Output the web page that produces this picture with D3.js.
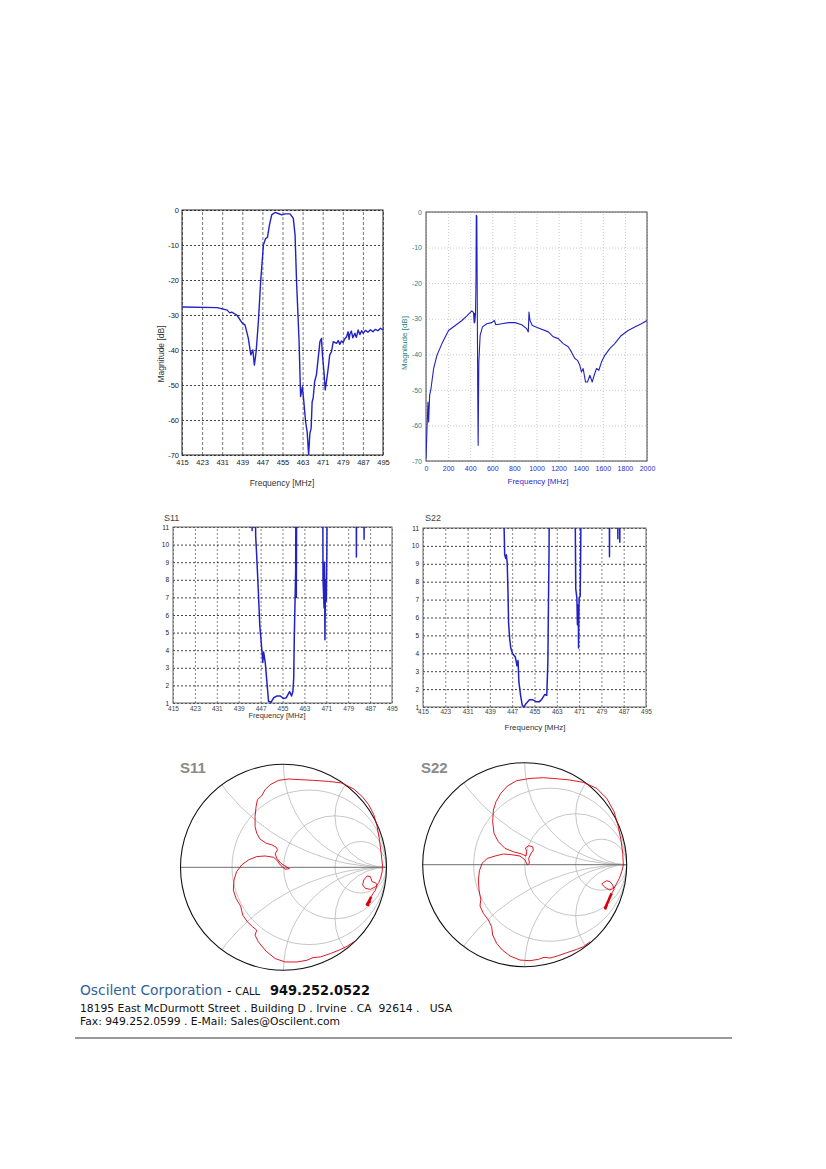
<!DOCTYPE html>
<html>
<head>
<meta charset="utf-8">
<script src="https://cdn.jsdelivr.net/npm/d3@7"></script>
<style>body{margin:0;background:#fff}</style>
</head>
<body>
<div id="page"></div>
<script>
// ---- data ----
// narrow band transmission, 415-495 MHz
const narrowMHz = [415, 429, 433, 434, 434.8, 436.8, 438.8, 440.1, 441.4, 442.4,
  443.2, 443.8, 444.5, 445.4, 446.3, 447.4, 448.3, 449, 449.8, 450.7,
  452, 453.3, 454.7, 456, 458, 459.3, 460, 460.6, 461.6, 462.2,
  462.9, 463.5, 464.2, 464.8, 465.4, 465.9, 466.4, 466.8, 467.2, 467.8,
  468.5, 469.2, 469.9, 470.5, 470.9, 471.5, 472, 472.5, 473.2, 473.8,
  474.5, 475.2, 476.5, 477.2, 477.8, 478.5, 479.1, 479.8, 480.5, 481.1,
  481.5, 481.8, 482.4, 483, 483.8, 484.4, 485.1, 485.8, 486.5, 487.1,
  488, 489, 490, 491, 492, 493, 494, 495];
const narrowDb = [-27.7, -27.9, -28.6, -29.4, -29.2, -30, -32.1, -32.9, -36.7, -41.4,
  -40, -44.3, -40.5, -31.9, -20.5, -10, -8.1, -7.9, -4.3, -1.4,
  -0.7, -1, -1.4, -1.1, -1.1, -2.4, -7.1, -20.5, -37.6, -53.3,
  -50.5, -54.8, -60.5, -63.3, -70, -63.8, -62.4, -54.8, -53.8, -49,
  -47.1, -42.4, -37.6, -36.7, -41.4, -46.2, -51.4, -49, -45.2, -41.4,
  -40.5, -37.6, -38.1, -37.3, -38.4, -37.4, -37.9, -36.8, -36.2, -34.8,
  -37, -35.5, -34.6, -36.5, -35.2, -36.4, -34.3, -35.6, -34.5, -35.2,
  -34.4, -34.9, -34.2, -34.8, -34.1, -34.5, -33.8, -34.3];

// wide band transmission, 0-2000 MHz
const wideMHz = [0, 9, 18, 24, 33, 45, 69, 99, 144, 204,
  265, 325, 370, 415, 430, 436, 439, 442, 448, 452,
  455, 460, 464, 468, 472, 478, 490, 511, 550, 595,
  619, 632, 686, 746, 806, 866, 911, 926, 932, 941,
  962, 1017, 1107, 1152, 1197, 1242, 1287, 1317, 1347, 1371,
  1392, 1407, 1422, 1444, 1462, 1483, 1504, 1522, 1543, 1564,
  1588, 1618, 1663, 1708, 1768, 1829, 1889, 1949, 2000];
const wideDb = [-69.3, -60.9, -53.4, -59, -51.5, -49.7, -44, -40.3, -37, -33.3,
  -31.9, -30.5, -29.2, -27.8, -28.3, -31.2, -28.5, -31, -28.6, -20,
  -0.9, -1.2, -25, -50, -65.6, -42.2, -34.7, -32.3, -31.4, -31.1,
  -30.5, -31.7, -31.4, -31.1, -31.1, -31.7, -32.8, -33.7, -28.1, -30.5,
  -31.9, -32.6, -33.7, -35.1, -35.6, -37, -37.9, -39.4, -41.2, -41.7,
  -43.1, -45, -44, -47.8, -47.8, -45.9, -47.8, -45.9, -44, -44.5,
  -42.2, -40.3, -38.4, -37, -34.7, -33.3, -32.3, -31.4, -30.5];

// VSWR (values above 11 run off the top of the plot)
const s11MHz = [443.8, 443.9, 444.0, 445.0, 445.2, 445.5, 445.9, 446.3, 446.7, 447.1,
  447.5, 447.8, 448.1, 448.7, 449.3, 449.9, 450.8, 451.8, 453, 454.2,
  455.4, 456.4, 457.6, 458.3, 458.8, 459.1, 459.3, 459.6, 459.8, 459.95,
  460.05, 460.2, 469.7, 469.8, 470.2, 470.35, 470.5, 470.7, 471, 471.2,
  471.35, 481.9, 482, 482.1, 484.7, 484.8, 484.9];
const s11Vswr = [14, 10.8, 14, 14, 10.5, 9.6, 8.3, 6.9, 5.4, 4.7,
  3.9, 3.3, 3.9, 3.3, 2.2, 1.1, 1.04, 1.3, 1.4, 1.4,
  1.25, 1.3, 1.65, 1.4, 1.65, 2.4, 4.7, 6.9, 8.5, 14,
  7.0, 14, 14, 8.0, 6.4, 9, 4.6, 8, 6.8, 9.5,
  14, 14, 9.3, 14, 14, 10.3, 14];
const s22MHz = [444.0, 444.1, 444.3, 444.7, 444.9, 445.2, 445.5, 445.7, 446.1, 446.5,
  447.1, 447.5, 448.1, 448.5, 448.7, 449.1, 449.4, 450, 450.6, 451.2,
  452, 453.2, 454.4, 455.6, 456.8, 457.7, 458.7, 459.4, 459.8, 460,
  460.2, 460.4, 469.5, 469.8, 470.2, 470.4, 470.7, 470.8, 471, 471.4,
  471.6, 471.7, 481.8, 481.9, 482.0, 484.8, 484.9, 485.0, 485.5, 485.6,
  485.7];
const s22Vswr = [14, 11, 9.5, 9.3, 9.5, 9.1, 7.4, 5.7, 4.8, 4.3,
  4.0, 3.9, 3.8, 3.5, 3.3, 3.6, 2.4, 1.65, 1.1, 1.0,
  1.2, 1.4, 1.4, 1.3, 1.3, 1.45, 1.7, 1.65, 3.5, 6.7,
  9.5, 14, 14, 7.6, 7.1, 5.6, 6.7, 4.3, 7.1, 7.2,
  10.1, 14, 14, 9.4, 14, 14, 10.4, 14, 14, 10.2,
  14];

// reflection coefficient loci (real, imaginary); the first points form the dense band end
const s11Re = [0.818, 0.83, 0.81, 0.838, 0.82, 0.851, 0.870, 0.893, 0.909, 0.893, 0.860, 0.844, 0.812, 0.779, 0.769,
  0.795, 0.844, 0.893, 0.925, 0.942, 0.958, 0.961, 0.948, 0.932, 0.909, 0.877, 0.828, 0.763, 0.682,
  0.568, 0.438, 0.292, 0.162, 0.049, -0.049, -0.130, -0.179, -0.211, -0.253, -0.266, -0.276, -0.276,
  -0.260, -0.227, -0.169, -0.114, -0.071, -0.058, -0.081, -0.065, -0.026, 0.026, 0.058, 0.016, -0.032,
  -0.065, -0.097, -0.179, -0.260, -0.341, -0.406, -0.455, -0.481, -0.487, -0.461, -0.416, -0.396,
  -0.351, -0.299, -0.260, -0.276, -0.244, -0.169, -0.081, 0.016, 0.130, 0.227, 0.286, 0.357, 0.455,
  0.552, 0.617, 0.682];
const s11Im = [-0.377, -0.33, -0.36, -0.334, -0.35, -0.286, -0.253, -0.221, -0.172, -0.149, -0.140, -0.091, -0.084, -0.123, -0.172,
  -0.205, -0.214, -0.188, -0.149, -0.107, -0.042, 0.023, 0.136, 0.266, 0.396, 0.510, 0.607, 0.688, 0.760,
  0.818, 0.834, 0.844, 0.851, 0.857, 0.844, 0.802, 0.753, 0.695, 0.656, 0.591, 0.494, 0.396,
  0.331, 0.273, 0.234, 0.218, 0.195, 0.169, 0.130, 0.088, 0.039, 0.006, -0.013, -0.019, 0.023,
  0.071, 0.097, 0.110, 0.104, 0.071, 0.023, -0.042, -0.123, -0.221, -0.302, -0.377, -0.464,
  -0.529, -0.578, -0.610, -0.659, -0.724, -0.815, -0.886, -0.919, -0.919, -0.903, -0.877, -0.870, -0.838,
  -0.799, -0.766, -0.724];
const s22Re = [0.788, 0.804, 0.79, 0.824, 0.837, 0.853, 0.876, 0.863, 0.837, 0.804, 0.771, 0.755, 0.788, 0.830,
  0.876, 0.902, 0.928, 0.951, 0.967, 0.961, 0.944, 0.918, 0.876, 0.804, 0.706, 0.575, 0.444, 0.314,
  0.183, 0.052, -0.078, -0.170, -0.235, -0.281, -0.307, -0.314, -0.301, -0.258, -0.193, -0.111, -0.029,
  0.013, 0.020, 0.007, 0.039, 0.078, 0.085, 0.059, 0.039, 0.046, 0.026, 0.003, -0.046, -0.127, -0.209,
  -0.291, -0.366, -0.418, -0.444, -0.454, -0.448, -0.431, -0.438, -0.405, -0.356, -0.324, -0.314,
  -0.275, -0.219, -0.144, -0.046, 0.052, 0.134, 0.190, 0.248, 0.320, 0.412, 0.510, 0.575, 0.641];
const s22Im = [-0.438, -0.395, -0.42, -0.346, -0.314, -0.281, -0.242, -0.199, -0.167, -0.157, -0.176, -0.190, -0.222, -0.248,
  -0.232, -0.183, -0.134, -0.069, -0.003, 0.111, 0.242, 0.373, 0.520, 0.650, 0.748, 0.807, 0.830, 0.843,
  0.853, 0.846, 0.824, 0.771, 0.699, 0.618, 0.536, 0.422, 0.307, 0.225, 0.160, 0.127, 0.105,
  0.085, 0.127, 0.163, 0.186, 0.176, 0.144, 0.105, 0.062, 0.013, -0.003, 0.046, 0.085, 0.098, 0.105,
  0.085, 0.062, 0.013, -0.059, -0.150, -0.248, -0.340, -0.405, -0.477, -0.542, -0.608, -0.690,
  -0.771, -0.837, -0.895, -0.935, -0.941, -0.928, -0.908, -0.915, -0.895, -0.863, -0.830, -0.804, -0.755];

// axis ticks
const mhzTicks = [415, 423, 431, 439, 447, 455, 463, 471, 479, 487, 495];
const dbTicks = [0, -10, -20, -30, -40, -50, -60, -70];
const wideTicks = [0, 200, 400, 600, 800, 1000, 1200, 1400, 1600, 1800, 2000];
const vswrTicks = [1, 2, 3, 4, 5, 6, 7, 8, 9, 10, 11];
const smithR = [1 / 3, 1, 3];
const smithX = [0.5, 1, 2, -0.5, -1, -2];

const width = 826;
const height = 1169;
const svg = d3.select('#page').append('svg')
  .attr('width', width).attr('height', height)
  .style('background', '#fff');

const plain = d => String(d);   // "-10", "1000" as printed
let clipCount = 0;

function rectPanel(p, xs, ys) {
  const x = d3.scaleLinear().domain(p.xDomain).range([p.left, p.right]);
  const y = d3.scaleLinear().domain(p.yDomain).range([p.bottom, p.top]);
  const w = p.right - p.left, h = p.bottom - p.top;
  const g = svg.append('g');

  // grid
  g.append('g').attr('transform', `translate(0,${p.bottom})`)
    .call(d3.axisBottom(x).tickValues(p.xTicks).tickSize(-h).tickFormat(''))
    .call(a => a.select('.domain').remove())
    .selectAll('line')
      .attr('stroke', p.vGrid).attr('stroke-width', 0.8)
      .attr('stroke-dasharray', p.vDash);
  g.append('g').attr('transform', `translate(${p.left},0)`)
    .call(d3.axisLeft(y).tickValues(p.yTicks).tickSize(-w).tickFormat(''))
    .call(a => a.select('.domain').remove())
    .selectAll('line')
      .attr('stroke', p.hGrid).attr('stroke-width', 0.8)
      .attr('stroke-dasharray', p.hDash);

  g.append('rect')
    .attr('x', p.left).attr('y', p.top).attr('width', w).attr('height', h)
    .attr('fill', 'none').attr('stroke', p.frame).attr('stroke-width', 1);

  // tick labels
  const xa = g.append('g').attr('transform', `translate(0,${p.bottom})`)
    .call(d3.axisBottom(x).tickValues(p.xTicks).tickSize(0).tickPadding(p.xPad).tickFormat(plain));
  xa.select('.domain').remove();
  xa.attr('font-family', 'Liberation Sans, Arial, sans-serif');
  xa.selectAll('text').attr('font-size', p.tickFont).attr('fill', p.xTickColor);

  const ya = g.append('g').attr('transform', `translate(${p.left},0)`)
    .call(d3.axisLeft(y).tickValues(p.yTicks).tickSize(0).tickPadding(p.yPad).tickFormat(plain));
  ya.select('.domain').remove();
  ya.attr('font-family', 'Liberation Sans, Arial, sans-serif');
  ya.selectAll('text').attr('font-size', p.tickFont).attr('fill', p.yTickColor);

  // titles
  g.append('text')
    .attr('x', p.xTitleX).attr('y', p.xTitleY)
    .attr('text-anchor', 'middle')
    .attr('font-family', 'Liberation Sans, Arial, sans-serif')
    .attr('font-size', p.titleFont).attr('fill', p.xTitleColor)
    .text('Frequency [MHz]');
  if (p.yTitle) {
    g.append('text')
      .attr('transform', `translate(${p.yTitleX},${p.yTitleY}) rotate(-90)`)
      .attr('text-anchor', 'middle')
      .attr('font-family', 'Liberation Sans, Arial, sans-serif')
      .attr('font-size', p.titleFont).attr('fill', p.yTitleColor)
      .text(p.yTitle);
  }
  if (p.name) {
    g.append('text')
      .attr('x', p.nameX).attr('y', p.nameY)
      .attr('font-family', 'Liberation Sans, Arial, sans-serif')
      .attr('font-size', 9).attr('fill', '#444')
      .text(p.name);
  }

  // trace
  const id = 'clip' + (clipCount++);
  svg.append('clipPath').attr('id', id)
    .append('rect').attr('x', p.left).attr('y', p.top).attr('width', w).attr('height', h);
  const line = d3.line().x(d => x(d[0])).y(d => y(d[1]));
  g.append('path')
    .datum(d3.zip(xs, ys))
    .attr('clip-path', `url(#${id})`)
    .attr('fill', 'none')
    .attr('stroke', '#2222c4')
    .attr('stroke-width', p.lineWidth)
    .attr('stroke-linejoin', 'round')
    .attr('d', line);
}

function smithPanel(p, re, im) {
  const x = d3.scaleLinear().domain([-1, 1]).range([p.cx - p.r, p.cx + p.r]);
  const y = d3.scaleLinear().domain([-1, 1]).range([p.cy + p.r, p.cy - p.r]);
  const len = v => x(v) - x(0);
  const g = svg.append('g');
  const id = 'clip' + (clipCount++);
  svg.append('clipPath').attr('id', id)
    .append('circle').attr('cx', x(0)).attr('cy', y(0)).attr('r', len(1));

  const grid = g.append('g').attr('clip-path', `url(#${id})`)
    .attr('fill', 'none').attr('stroke', '#b8b8b8').attr('stroke-width', 0.8);
  grid.selectAll('circle.r').data(smithR).join('circle')
    .attr('class', 'r')
    .attr('cx', d => x(d / (1 + d))).attr('cy', y(0))
    .attr('r', d => len(1 / (1 + d)));
  grid.selectAll('circle.x').data(smithX).join('circle')
    .attr('class', 'x')
    .attr('cx', x(1)).attr('cy', d => y(1 / d))
    .attr('r', d => len(1 / Math.abs(d)));

  g.append('line')
    .attr('x1', x(-1)).attr('x2', x(1)).attr('y1', y(0)).attr('y2', y(0))
    .attr('stroke', '#6e6e6e').attr('stroke-width', 1);

  g.append('circle')
    .attr('cx', x(0)).attr('cy', y(0)).attr('r', len(1))
    .attr('fill', 'none').attr('stroke', '#111').attr('stroke-width', 1.1);

  const pts = d3.zip(re, im);
  const line = d3.line().x(d => x(d[0])).y(d => y(d[1]));
  g.append('path')
    .datum(pts)
    .attr('fill', 'none').attr('stroke', '#d8000c').attr('stroke-width', 0.9)
    .attr('stroke-linejoin', 'round')
    .attr('d', line);
  // dense sweep end near the edge shows as a heavy band
  g.append('path')
    .datum(pts.slice(0, 6))
    .attr('fill', 'none').attr('stroke', '#d8000c').attr('stroke-width', 2.6)
    .attr('stroke-linejoin', 'round')
    .attr('d', line);

  g.append('text')
    .attr('x', p.labelX).attr('y', p.labelY)
    .attr('font-family', 'Liberation Sans, Arial, sans-serif')
    .attr('font-weight', 'bold').attr('font-size', 15).attr('fill', '#8a8a8a')
    .text(p.label);
}

// ---- panels ----
rectPanel({
  left: 182, right: 383, top: 210, bottom: 455,
  xDomain: [415, 495], yDomain: [-70, 0], xTicks: mhzTicks, yTicks: dbTicks,
  vGrid: '#555', vDash: '3,2', hGrid: '#111', hDash: '2,2', frame: '#222',
  xPad: 5, yPad: 3, tickFont: 7.5, xTickColor: '#222', yTickColor: '#222',
  titleFont: 8.5, xTitleX: 282, xTitleY: 486, xTitleColor: '#333',
  yTitle: 'Magnitude [dB]', yTitleX: 164, yTitleY: 354, yTitleColor: '#333',
  lineWidth: 1.4
}, narrowMHz, narrowDb);

rectPanel({
  left: 426, right: 647, top: 212, bottom: 461,
  xDomain: [0, 2000], yDomain: [-70, 0], xTicks: wideTicks, yTicks: dbTicks,
  vGrid: '#bbb', vDash: '1,2', hGrid: '#bbb', hDash: '1,2', frame: '#444',
  xPad: 5, yPad: 4, tickFont: 7, xTickColor: '#2a2ad0', yTickColor: '#1e8585',
  titleFont: 8, xTitleX: 538, xTitleY: 484, xTitleColor: '#2a2ad0',
  yTitle: 'Magnitude [dB]', yTitleX: 407, yTitleY: 343, yTitleColor: '#1e8585',
  lineWidth: 1.1
}, wideMHz, wideDb);

rectPanel({
  left: 173, right: 392, top: 527, bottom: 703,
  xDomain: [415, 495], yDomain: [1, 11], xTicks: mhzTicks, yTicks: vswrTicks,
  vGrid: '#666', vDash: '2,2', hGrid: '#111', hDash: '2,2', frame: '#666',
  xPad: 3, yPad: 4, tickFont: 6.5, xTickColor: '#444', yTickColor: '#222',
  titleFont: 7.5, xTitleX: 277, xTitleY: 718, xTitleColor: '#333',
  name: 'S11', nameX: 164, nameY: 521,
  lineWidth: 1.5
}, s11MHz, s11Vswr);

rectPanel({
  left: 423, right: 646, top: 528, bottom: 707,
  xDomain: [415, 495], yDomain: [1, 11], xTicks: mhzTicks, yTicks: vswrTicks,
  vGrid: '#666', vDash: '2,2', hGrid: '#111', hDash: '2,2', frame: '#666',
  xPad: 2, yPad: 4, tickFont: 6.5, xTickColor: '#444', yTickColor: '#222',
  titleFont: 8, xTitleX: 535, xTitleY: 730, xTitleColor: '#333',
  name: 'S22', nameX: 425, nameY: 521,
  lineWidth: 1.5
}, s22MHz, s22Vswr);

smithPanel({cx: 283.5, cy: 867.3, r: 103, label: 'S11', labelX: 180, labelY: 773}, s11Re, s11Im);
smithPanel({cx: 524.7, cy: 864.7, r: 102, label: 'S22', labelX: 421, labelY: 773}, s22Re, s22Im);

// ---- footer ----
const foot = svg.append('g').attr('font-family', 'DejaVu Sans, Verdana, sans-serif');
const l1 = foot.append('text').attr('x', 80).attr('y', 995).style('white-space', 'pre');
l1.append('tspan').attr('font-size', 14).attr('fill', '#2f6398')
  .attr('textLength', 142).attr('lengthAdjust', 'spacingAndGlyphs')
  .text('Oscilent Corporation');
l1.append('tspan').attr('x', 227).attr('font-size', 12).attr('fill', '#111').text('- ');
l1.append('tspan').attr('font-size', 10).attr('fill', '#111').text('CALL ');
l1.append('tspan').attr('x', 270).attr('font-size', 14).attr('font-weight', 'bold').attr('fill', '#111')
  .attr('textLength', 100).attr('lengthAdjust', 'spacingAndGlyphs')
  .text('949.252.0522');

foot.append('text').attr('x', 80).attr('y', 1012)
  .style('white-space', 'pre')
  .attr('font-size', 10.5).attr('fill', '#111')
  .attr('textLength', 372).attr('lengthAdjust', 'spacingAndGlyphs')
  .text('18195 East McDurmott Street . Building D . Irvine . CA  92614 .   USA');
foot.append('text').attr('x', 80).attr('y', 1025)
  .style('white-space', 'pre')
  .attr('font-size', 10.5).attr('fill', '#111')
  .attr('textLength', 260).attr('lengthAdjust', 'spacingAndGlyphs')
  .text('Fax: 949.252.0599 . E-Mail: Sales@Oscilent.com');

foot.append('line')
  .attr('x1', 75).attr('x2', 732).attr('y1', 1038).attr('y2', 1038)
  .attr('stroke', '#9a9a9a').attr('stroke-width', 2);
</script>
</body>
</html>
